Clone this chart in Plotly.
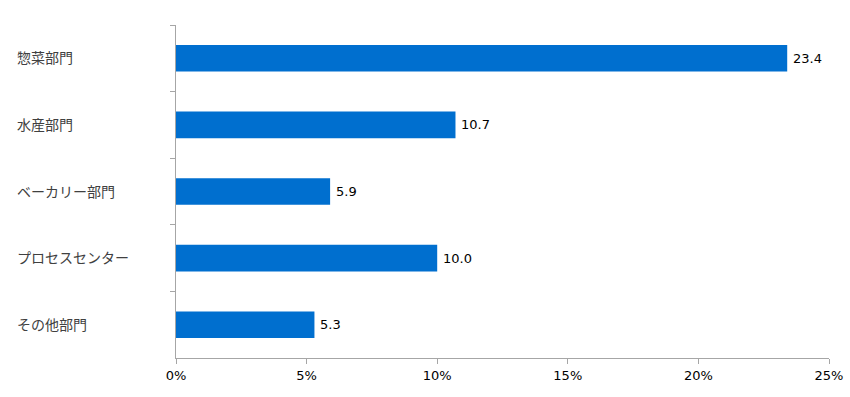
import plotly.graph_objects as go

categories = ["惣菜部門", "水産部門", "ベーカリー部門", "プロセスセンター", "その他部門"]
values = [23.4, 10.7, 5.9, 10.0, 5.3]
x_ticks = [0, 5, 10, 15, 20, 25]
x_tick_labels = ["0%", "5%", "10%", "15%", "20%", "25%"]

fig = go.Figure()
fig.add_trace(go.Bar(
    y=categories,
    x=values,
    orientation="h",
    width=0.4,
    marker=dict(color="#006FCF", line=dict(width=0)),
    hoverinfo="skip",
))

for c, v in zip(categories, values):
    fig.add_annotation(
        x=v, xref="x", y=c, yref="y",
        text=f"{v:.1f}", showarrow=False, xanchor="left", yanchor="middle",
        xshift=4,
        font=dict(family="DejaVu Sans", size=13, color="#000000"),
    )
    fig.add_annotation(
        x=-0.2466, xref="paper", y=c, yref="y",
        text=c, showarrow=False, xanchor="left", yanchor="middle",
        yshift=1,
        font=dict(family="Noto Sans CJK JP", size=14, color="#404040"),
    )

fig.update_layout(
    width=850, height=397,
    margin=dict(l=176, r=21, t=25, b=39, autoexpand=False),
    paper_bgcolor="white", plot_bgcolor="white",
    showlegend=False,
    xaxis=dict(
        range=[0, 25], tickvals=x_ticks, ticktext=x_tick_labels,
        automargin=False,
        showgrid=False, zeroline=False,
        showline=True, linecolor="#A6A6A6", linewidth=1,
        ticks="outside", ticklen=5, tickcolor="#A6A6A6",
        tickfont=dict(family="DejaVu Sans", size=13, color="#000000"),
    ),
    yaxis=dict(
        categoryorder="array", categoryarray=categories,
        autorange="reversed", automargin=False,
        showticklabels=False, showgrid=False, zeroline=False,
        showline=True, linecolor="#A6A6A6", linewidth=1,
        ticks="outside", ticklen=5, tickcolor="#A6A6A6", tickson="boundaries",
    ),
)

fig.write_html(
    "out.html",
    config={"displayModeBar": False},
    post_script="document.body.style.margin='0';document.body.style.overflow='hidden';",
)
